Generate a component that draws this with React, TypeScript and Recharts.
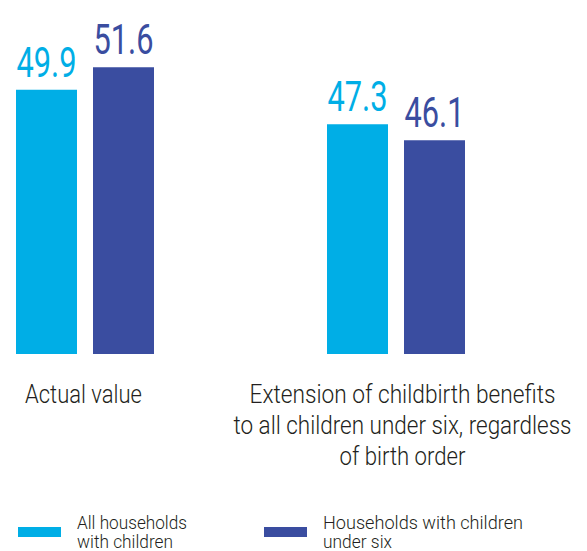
import { BarChart, Bar, XAxis, YAxis, Legend, LabelList } from 'recharts';

const categories = [
  'Actual value',
  'Extension of childbirth benefits\nto all children under six, regardless\nof birth order',
];
const allHouseholds = [49.9, 47.3];
const underSix = [51.6, 46.1];
const seriesNames = ['All households\nwith children', 'Households with children\nunder six'];

const COLORS = ['#00AEE6', '#3A4DA0'];
const TEXT = '#231F20';
const FONT = 'Roboto, sans-serif';

// the reference uses a condensed face; these widths squeeze Roboto to match it
const LINE_WIDTHS: Record<string, number> = {
  'Actual value': 117,
  'Extension of childbirth benefits': 306,
  'to all children under six, regardless': 338,
  'of birth order': 126,
  'All households': 110,
  'with children': 96,
  'Households with children': 200,
  'under six': 69,
};
const VALUE_WIDTH = 60;

const data = categories.map((category, i) => ({
  category,
  all: allHouseholds[i],
  six: underSix[i],
}));

function CategoryTick({ x, y, payload, index }: any) {
  const lines = String(payload.value).split('\n');
  const cx = x + (index === 1 ? 7 : -1);
  return (
    <g>
      {lines.map((line, i) => (
        <text key={i} x={cx} y={y + 49 + i * 31} textAnchor="middle" fill={TEXT}
          fontFamily={FONT} fontWeight={300} fontSize={25}
          textLength={LINE_WIDTHS[line]} lengthAdjust="spacingAndGlyphs">
          {line}
        </text>
      ))}
    </g>
  );
}

const valueLabel = (color: string) => (props: any) => {
  const { x, y, width, value } = props;
  return (
    <text x={x + width / 2} y={y - 13} textAnchor="middle" fill={color}
      fontFamily={FONT} fontSize={42} textLength={VALUE_WIDTH} lengthAdjust="spacingAndGlyphs">
      {value}
    </text>
  );
};

const legendX = [18, 264];

function LegendContent({ payload }: any) {
  return (
    <svg width={587} height={46} style={{ display: 'block' }}>
      {(payload || []).map((entry: any, i: number) => {
        const lines = String(entry.value).split('\n');
        const x = legendX[i];
        return (
          <g key={i}>
            <rect x={x} y={22} width={43} height={10} fill={entry.color} />
            {lines.map((line, j) => (
              <text key={j} x={x + 59} y={24 + j * 19} fill={TEXT} fontFamily={FONT}
                fontWeight={300} fontSize={18}
                textLength={LINE_WIDTHS[line]} lengthAdjust="spacingAndGlyphs">
                {line}
              </text>
            ))}
          </g>
        );
      })}
    </svg>
  );
}

export default function App() {
  return (
    <div style={{ position: 'absolute', left: 0, top: 0, width: 587, height: 551, background: '#fff' }}>
      <BarChart width={587} height={551} data={data} barGap={16} barSize={61}
        margin={{ top: 22, right: 36, left: -71, bottom: 57 }}>
        <XAxis dataKey="category" height={140} axisLine={false} tickLine={false}
          tickSize={0} tickMargin={0} interval={0} tick={<CategoryTick />} />
        <YAxis hide domain={[30, 55]} />
        <Legend verticalAlign="middle" align="center" layout="horizontal"
          wrapperStyle={{ top: 505, left: 0, width: 587, height: 46 }}
          content={<LegendContent />} />
        <Bar dataKey="all" name={seriesNames[0]} fill={COLORS[0]} isAnimationActive={false}>
          <LabelList dataKey="all" content={valueLabel(COLORS[0])} />
        </Bar>
        <Bar dataKey="six" name={seriesNames[1]} fill={COLORS[1]} isAnimationActive={false}>
          <LabelList dataKey="six" content={valueLabel(COLORS[1])} />
        </Bar>
      </BarChart>
    </div>
  );
}
